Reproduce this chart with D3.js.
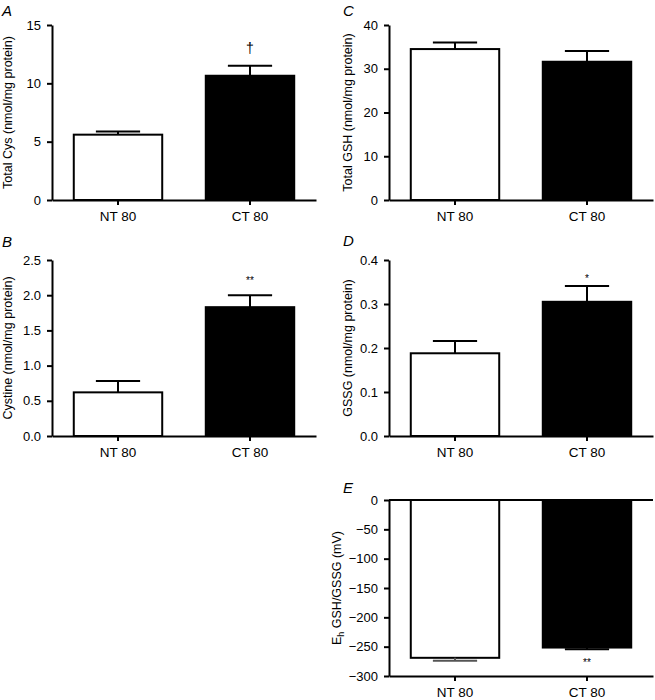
<!DOCTYPE html>
<html><head><meta charset="utf-8">
<script src="https://cdn.jsdelivr.net/npm/d3@7"></script>
<style>
body{margin:0;background:#fff;}
svg{display:block;font-family:"Liberation Sans",Arial,Helvetica,sans-serif;}
</style></head>
<body><svg id="c" width="655" height="700"></svg>
<script>
const categories = ["NT 80", "CT 80"];
const totalCys = [5.6, 10.65];
const totalCysErr = [0.28, 0.86];
const cystine = [0.62, 1.83];
const cystineErr = [0.16, 0.17];
const totalGSH = [34.5, 31.6];
const totalGSHErr = [1.5, 2.45];
const gssg = [0.188, 0.305];
const gssgErr = [0.028, 0.036];
const eh = [-269, -251.5];
const ehErr = [5, 3];
const ticksA = [0, 5, 10, 15];
const ticksB = [0, 0.5, 1.0, 1.5, 2.0, 2.5];
const ticksC = [0, 10, 20, 30, 40];
const ticksD = [0, 0.1, 0.2, 0.3, 0.4];
const ticksE = [0, -50, -100, -150, -200, -250, -300];
const fills = ["#ffffff", "#000000"];

const svg = d3.select("#c");

function panel(o) {
  const g = svg.append("g");
  const x = d3.scaleBand().domain(categories).range([o.x0, o.x0 + 264]).paddingInner(0.33).paddingOuter(0.165);
  const y = d3.scaleLinear().domain(o.domain).range([o.y1, o.y0]);
  const neg = o.domain[1] === 0;
  const base = neg ? y(0) : y(o.domain[0]);
  // bars
  g.selectAll("rect.bar").data(o.values).enter().append("rect")
    .attr("x", (d, i) => x(categories[i]))
    .attr("width", x.bandwidth())
    .attr("y", d => Math.min(y(d), y(0)))
    .attr("height", d => Math.abs(y(d) - y(0)))
    .attr("fill", (d, i) => fills[i])
    .attr("stroke", "#000").attr("stroke-width", 2);
  // error bars
  o.values.forEach((v, i) => {
    const cx = x(categories[i]) + x.bandwidth() / 2;
    const e = neg ? v - o.errs[i] : v + o.errs[i];
    const col = neg && i === 0 ? "#555" : "#000";
    g.append("line").attr("x1", cx).attr("x2", cx).attr("y1", y(v)).attr("y2", y(e))
      .attr("stroke", col).attr("stroke-width", 2);
    g.append("line").attr("x1", cx - x.bandwidth() / 4).attr("x2", cx + x.bandwidth() / 4)
      .attr("y1", y(e)).attr("y2", y(e)).attr("stroke", col).attr("stroke-width", 2);
  });
  // y axis
  const ya = d3.axisLeft(y).tickValues(o.ticks).tickSize(5).tickPadding(6).tickSizeOuter(0)
    .tickFormat(o.fmt);
  const yg = g.append("g").attr("transform", `translate(${o.x0},0)`).call(ya);
  // x axis
  const xa = d3.axisBottom(x).tickSize(5).tickPadding(6).tickSizeOuter(0);
  const xg = g.append("g").attr("transform", `translate(0,${o.y1})`).call(xa);
  [yg, xg].forEach(a => {
    a.select(".domain").attr("stroke-width", 2);
    a.selectAll(".tick line").attr("stroke-width", 2);
    a.selectAll("text").attr("font-size", 13).attr("fill", "#000")
      .attr("font-family", "'Liberation Sans',Arial,sans-serif");
  });
  xg.selectAll("text").attr("font-size", 13.5);
  if (neg) {
    g.append("line").attr("x1", o.x0).attr("x2", o.x0 + 264).attr("y1", y(0)).attr("y2", y(0))
      .attr("stroke", "#000").attr("stroke-width", 2);
  }
  // y label
  const ly = (o.y0 + o.y1) / 2;
  const lab = g.append("text").attr("transform", `translate(${o.lx},${ly}) rotate(-90)`)
    .attr("text-anchor", "middle").attr("font-size", 12.5).attr("fill", "#000");
  if (o.labelParts) {
    lab.append("tspan").text("E");
    lab.append("tspan").attr("font-size", 9).attr("dy", 3).text("h");
    lab.append("tspan").attr("dy", -3).text(" GSH/GSSG (mV)");
  } else lab.text(o.label);
  // panel letter
  g.append("text").attr("x", o.px).attr("y", o.py).attr("font-size", 15).attr("font-style", "italic")
    .attr("fill", "#000").text(o.letter);
  // significance
  if (o.sig) {
    const cx = x(categories[1]) + x.bandwidth() / 2;
    g.append("text").attr("x", cx).attr("y", o.sigY).attr("text-anchor", "middle")
      .attr("font-size", o.sigSize).attr("fill", "#000").text(o.sig);
  }
}

const fmt1 = d3.format(".1f");
const fmtMinus = d => d === 0 ? "0" : "\u2212" + Math.abs(d);

panel({x0: 52, y0: 25, y1: 200, domain: [0, 15], values: totalCys, errs: totalCysErr, ticks: ticksA,
  fmt: d3.format("d"), label: "Total Cys (nmol/mg protein)", lx: 12, letter: "A", px: 2, py: 16,
  sig: "\u2020", sigY: 53, sigSize: 14});
panel({x0: 52, y0: 260, y1: 436, domain: [0, 2.5], values: cystine, errs: cystineErr, ticks: ticksB,
  fmt: fmt1, label: "Cystine (nmol/mg protein)", lx: 12, letter: "B", px: 2, py: 247,
  sig: "**", sigY: 284, sigSize: 10});
panel({x0: 389, y0: 25, y1: 200, domain: [0, 40], values: totalGSH, errs: totalGSHErr, ticks: ticksC,
  fmt: d3.format("d"), label: "Total GSH (nmol/mg protein)", lx: 352, letter: "C", px: 343, py: 16});
panel({x0: 389, y0: 260, y1: 436, domain: [0, 0.4], values: gssg, errs: gssgErr, ticks: ticksD,
  fmt: fmt1, label: "GSSG (nmol/mg protein)", lx: 352, letter: "D", px: 343, py: 246,
  sig: "*", sigY: 282, sigSize: 10});
panel({x0: 389, y0: 500, y1: 676, domain: [-300, 0], values: eh, errs: ehErr, ticks: ticksE,
  fmt: fmtMinus, labelParts: true, lx: 341, letter: "E", px: 343, py: 493,
  sig: "**", sigY: 666, sigSize: 10});
</script></body></html>
